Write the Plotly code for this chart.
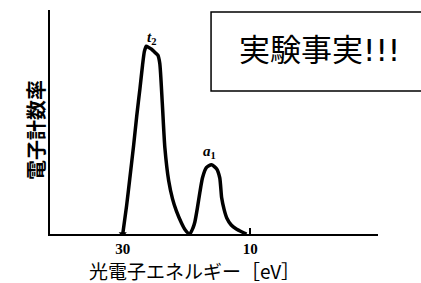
import plotly.graph_objects as go

energy = [30.0, 29.4, 28.9, 28.3, 27.8, 27.3, 26.9, 26.6, 26.3, 26.0, 25.5, 25.0, 24.5, 24.2,
          23.8, 23.4, 22.8, 22.2, 21.6, 20.8, 20.2, 19.5, 19.0, 18.7, 18.3, 17.9, 17.5, 16.9,
          16.1, 15.3, 14.8, 14.5, 14.1, 13.7, 13.0, 12.2, 11.3, 10.6]
counts = [0, 28, 55, 88, 118, 145, 168, 182, 187, 186, 184, 181, 178, 170,
          130, 86, 53, 35, 23, 11, 4, 0, 6, 12, 26, 42, 56, 66,
          69, 65, 56, 36, 24, 16, 9, 5, 2, 0]

tick_vals = [30, 10]
tick_text = ["<b>30</b>", "<b>10</b>"]
peak_labels = ["<b><i>t</i><sub>2</sub></b>", "<b><i>a</i><sub>1</sub></b>"]
peak_x = [25.5, 16.4]
peak_y = [195, 82]
x_title = "光電子エネルギー［eV］"
y_title = "<b>電子計数率</b>"
box_text = "実験事実!!!"

serif = "Liberation Serif, DejaVu Serif, serif"
cjk = "Noto Sans CJK JP, Noto Sans, sans-serif"

fig = go.Figure()
fig.add_trace(go.Scatter(x=energy, y=counts, mode="lines",
                         line=dict(color="black", width=3.5, shape="spline", smoothing=0.6),
                         hoverinfo="skip", showlegend=False))
fig.add_trace(go.Scatter(x=energy[:1], y=counts[:1], mode="markers",
                         marker=dict(symbol="triangle-down", size=7, color="black"),
                         hoverinfo="skip", showlegend=False))

for t, x, y in zip(peak_labels, peak_x, peak_y):
    fig.add_annotation(x=x, y=y, text=t, showarrow=False,
                       font=dict(family=serif, size=15, color="black"))

fig.add_shape(type="rect", xref="paper", yref="paper", x0=0.491, x1=1.2, y0=0.638, y1=0.991,
              line=dict(color="black", width=1.5), fillcolor="white")
fig.add_annotation(xref="paper", yref="paper", x=0.822, y=0.821, xanchor="center",
                   yanchor="middle", text=box_text, showarrow=False,
                   font=dict(family="DejaVu Sans, Noto Sans CJK JP, sans-serif", size=31,
                             color="black"))

fig.add_annotation(xref="paper", yref="paper", x=0.442, y=-0.165, xanchor="center",
                   yanchor="middle", text=x_title, showarrow=False,
                   font=dict(family=cjk, size=19, color="black"))
fig.add_annotation(xref="paper", yref="paper", x=-0.046, y=0.464, xanchor="center",
                   yanchor="middle", text=y_title, textangle=-90, showarrow=False,
                   font=dict(family=cjk, size=20, color="black"))

fig.update_layout(
    width=421, height=283,
    margin=dict(l=50, r=43, t=10, b=49),
    paper_bgcolor="white", plot_bgcolor="white",
    xaxis=dict(range=[41.4, -10.0], showline=True, linecolor="black", linewidth=2,
               showgrid=False, zeroline=False, tickvals=tick_vals, ticktext=tick_text,
               ticks="inside", ticklen=6, tickwidth=1.5, tickcolor="black", automargin=False,
               tickfont=dict(family=serif, size=15, color="black")),
    yaxis=dict(range=[0, 223], showline=True, linecolor="black", linewidth=2,
               showgrid=False, zeroline=False, showticklabels=False, ticks="", automargin=False),
)

fig.write_html("out.html", config={"displayModeBar": False},
               post_script="document.body.style.margin='0';")
